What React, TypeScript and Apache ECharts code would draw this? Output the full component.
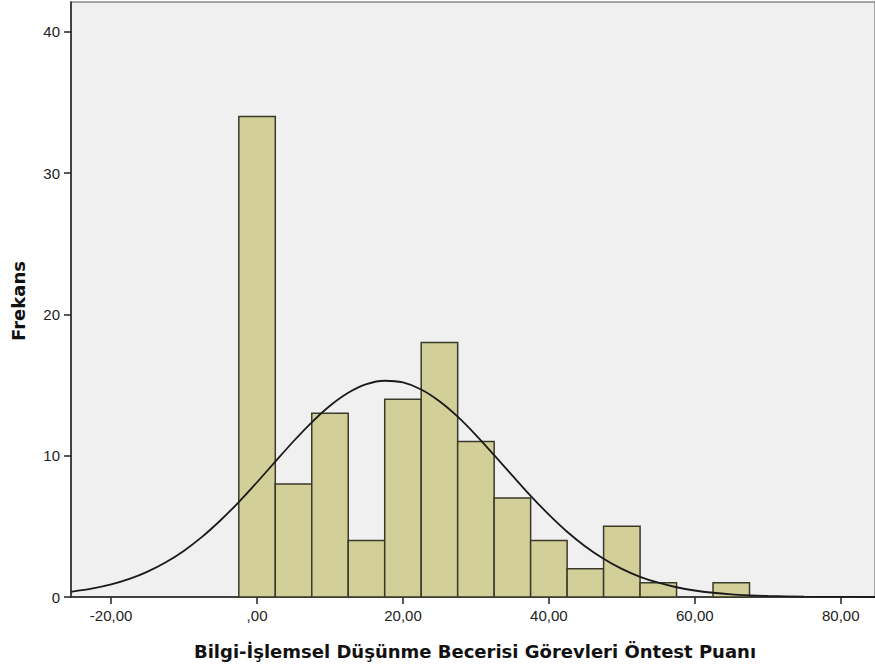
import React, { useEffect, useRef } from "react";
import * as echarts from "echarts";

const binCenters = [0, 5, 10, 15, 20, 25, 30, 35, 40, 45, 50, 55, 60, 65];
const frequencies = [34, 8, 13, 4, 14, 18, 11, 7, 4, 2, 5, 1, 0, 1];
const binWidth = 5;

const curveX = [
  -25.5, -22.5, -20, -17.5, -15, -12.5, -10, -7.5, -5, -2.5, 0, 2.5, 5, 7.5, 10, 12.5, 15, 17.5, 20,
  22.5, 25, 27.5, 30, 32.5, 35, 37.5, 40, 42.5, 45, 47.5, 50, 52.5, 55, 57.5, 60, 62.5, 65, 67.5, 70,
  75, 80, 84.7,
];
const curveY = [
  0.37, 0.61, 0.89, 1.28, 1.8, 2.46, 3.28, 4.27, 5.43, 6.72, 8.12, 9.58, 11.02, 12.36, 13.53, 14.45,
  15.06, 15.3, 15.18, 14.68, 13.85, 12.76, 11.46, 10.04, 8.59, 7.16, 5.83, 4.62, 3.58, 2.71, 1.99,
  1.43, 1.01, 0.69, 0.46, 0.3, 0.19, 0.12, 0.07, 0.02, 0.01, 0.0,
];

const xTicks = [-20, 0, 20, 40, 60, 80];
const yTicks = [0, 10, 20, 30, 40];

const xTitle = "Bilgi-İşlemsel Düşünme Becerisi Görevleri Öntest Puanı";
const yTitle = "Frekans";

const fmtX = (v: number) => {
  if (v === 0) return ",00";
  return v.toFixed(2).replace(".", ",");
};

export default function App() {
  const ref = useRef<HTMLDivElement>(null);
  useEffect(() => {
    if (!ref.current) return;
    const chart = echarts.init(ref.current, undefined, { renderer: "svg" });
    const font = "Arial, 'Liberation Sans', sans-serif";
    const titleFont = "'DejaVu Sans', Verdana, sans-serif";
    chart.setOption({
      animation: false,
      backgroundColor: "#ffffff",
      grid: {
        left: 71,
        top: 2,
        right: 0,
        bottom: 71,
        show: true,
        backgroundColor: "#f0f0f0",
        borderColor: "#8a8a8a",
        borderWidth: 1.5,
        outerBoundsMode: "none",
        containLabel: false,
      },
      xAxis: {
        type: "value",
        min: -25.5,
        max: 84.7,
        splitLine: { show: false },
        axisLine: { show: true, onZero: false, lineStyle: { color: "#222", width: 1.5 } },
        axisTick: {
          show: true,
          customValues: xTicks,
          length: 7,
          lineStyle: { color: "#222", width: 1.5 },
        },
        axisLabel: {
          customValues: xTicks,
          formatter: (v: number) => fmtX(v),
          color: "#222",
          fontSize: 15,
          fontFamily: font,
          margin: 11,
        },
      },
      yAxis: {
        type: "value",
        min: 0,
        max: 42.1,
        splitLine: { show: false },
        axisLine: { show: true, onZero: false, lineStyle: { color: "#222", width: 1.5 } },
        axisTick: {
          show: true,
          customValues: yTicks,
          length: 7,
          lineStyle: { color: "#222", width: 1.5 },
        },
        axisLabel: {
          customValues: yTicks,
          color: "#222",
          fontSize: 15,
          fontFamily: font,
          margin: 11,
        },
      },
      graphic: [
        {
          type: "text",
          x: 475,
          y: 651,
          style: {
            text: xTitle,
            x: 0,
            y: 0,
            align: "center",
            verticalAlign: "middle",
            font: `bold 18px ${titleFont}`,
            fill: "#111",
          },
        },
        {
          type: "text",
          x: 18,
          y: 301,
          rotation: Math.PI / 2,
          style: {
            text: yTitle,
            x: 0,
            y: 0,
            align: "center",
            verticalAlign: "middle",
            font: `bold 18px ${titleFont}`,
            fill: "#111",
          },
        },
      ],
      series: [
        {
          type: "custom",
          data: binCenters.map((c, i) => [c, frequencies[i]]),
          renderItem: (params: any, api: any) => {
            const c = api.value(0);
            const f = api.value(1);
            if (!f) return null;
            const p0 = api.coord([c - binWidth / 2, f]);
            const p1 = api.coord([c + binWidth / 2, 0]);
            return {
              type: "rect",
              shape: { x: p0[0], y: p0[1], width: p1[0] - p0[0], height: p1[1] - p0[1] },
              style: { fill: "#d3cf98", stroke: "#3a3a2a", lineWidth: 1.5 },
            };
          },
          z: 2,
        },
        {
          type: "line",
          data: curveX.map((x, i) => [x, curveY[i]]),
          smooth: 0.3,
          showSymbol: false,
          symbol: "none",
          lineStyle: { color: "#1a1a1a", width: 1.8 },
          z: 3,
        },
      ],
    });
    return () => chart.dispose();
  }, []);
  return (
    <div
      ref={ref}
      style={{ position: "fixed", left: 0, top: 0, width: 875, height: 668 }}
    />
  );
}
